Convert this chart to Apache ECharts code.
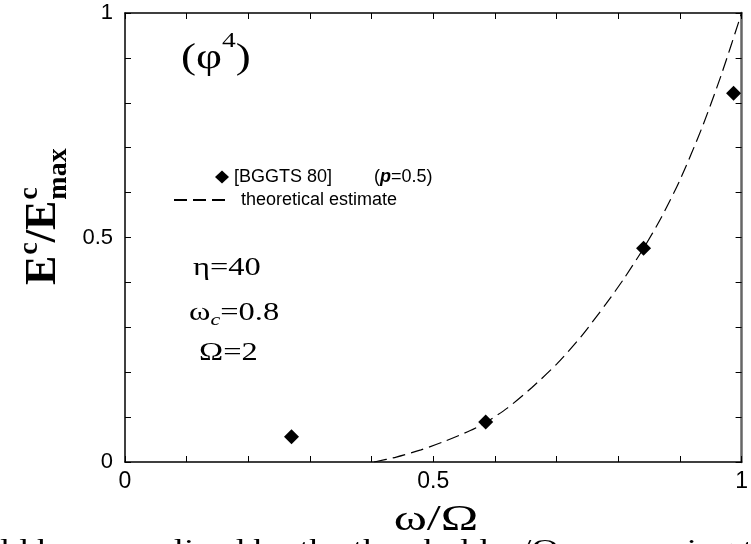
<!DOCTYPE html>
<html><head><meta charset="utf-8">
<script src="https://cdn.jsdelivr.net/npm/echarts@6/dist/echarts.min.js"></script>
<style>html,body{margin:0;padding:0;background:#fff}#c{width:751px;height:544px}</style>
</head><body><div id="c"></div>
<script>
// ---- data ----
const xTickLabels = [0, 0.5, 1];
const yTickLabels = [0, 0.5, 1];
const expName = '[BGGTS 80]';
const expX = [0.270, 0.585, 0.841, 0.987];
const expY = [0.056, 0.089, 0.476, 0.821];
const theoName = 'theoretical estimate';
const theoX = [0.404, 0.44, 0.48, 0.52, 0.56, 0.585, 0.62, 0.66, 0.70, 0.74, 0.78, 0.81, 0.841, 0.87, 0.90, 0.935, 0.967, 1.0];
const theoY = [0, 0.011, 0.027, 0.047, 0.070, 0.088, 0.120, 0.166, 0.218, 0.280, 0.352, 0.410, 0.476, 0.545, 0.628, 0.742, 0.862, 1.0];

const SERIF = '"Liberation Serif","Times New Roman",serif';
const SANS = '"Liberation Sans",Arial,sans-serif';

const ctx = document.createElement('canvas').getContext('2d');
function tw(t, font) { ctx.font = font; return ctx.measureText(t).width; }

// horizontal sequence of text pieces, with horizontal stretch sx
function seq(x0, yMid, pieces, sx) {
  const out = []; let x = x0;
  pieces.forEach(p => {
    out.push({ type: 'text', x: x, y: yMid + (p.dy || 0), scaleX: sx, silent: true,
      style: { text: p.t, font: p.font, fill: '#000', verticalAlign: 'middle', align: 'left' } });
    x += (tw(p.t, p.font) + (p.gap || 0)) * sx;
  });
  return out;
}

const chart = echarts.init(document.getElementById('c'), null, { renderer: 'canvas' });
const near = (v, arr) => arr.some(a => Math.abs(a - v) < 1e-6);
const fmt = arr => v => near(v, arr) ? String(+v.toFixed(2)) : '';

const axisCommon = {
  type: 'value', min: 0, max: 1, interval: 0.1,
  splitLine: { show: false },
  axisTick: { inside: true, length: 6, lineStyle: { color: '#000', width: 1 } }
};

// y title (rotated)
const bigF = 'bold 44px ' + SERIF, smF = 'bold 28px ' + SERIF;
const wE = tw('E', bigF), wc = tw('c', smF), wS = tw('/', bigF);
const yTitle = {
  type: 'group', x: 44, y: 285, rotation: Math.PI / 2, silent: true,
  children: [
    { type: 'text', x: 0, y: 0, style: { text: 'E', font: bigF, fill: '#000', verticalAlign: 'middle' } },
    { type: 'text', x: wE + 1, y: -14, style: { text: 'c', font: smF, fill: '#000', verticalAlign: 'middle' } },
    { type: 'text', x: wE + wc + 1, y: 0, style: { text: '/', font: bigF, fill: '#000', verticalAlign: 'middle' } },
    { type: 'text', x: wE + wc + wS + 1, y: 0, style: { text: 'E', font: bigF, fill: '#000', verticalAlign: 'middle' } },
    { type: 'text', x: 2 * wE + wc + wS + 2, y: -14, style: { text: 'c', font: smF, fill: '#000', verticalAlign: 'middle' } },
    { type: 'text', x: 2 * wE + wc + wS + 2, y: 15, style: { text: 'max', font: smF, fill: '#000', verticalAlign: 'middle' } }
  ]
};

const pF = '25px ' + SERIF;
const xNameF = '36px ' + SERIF;
const xNameSx = 1.4;
const graphics = [yTitle]
  .concat(seq(181, 59, [{ t: '(φ', font: '36px ' + SERIF }, { t: '4', font: '22px ' + SERIF, dy: -18 }, { t: ')', font: '36px ' + SERIF }], 1.25))
  .concat(seq(193, 268, [{ t: 'η=40', font: pF }], 1.3))
  .concat(seq(189, 313, [{ t: 'ω', font: pF }, { t: 'c', font: 'italic 17px ' + SERIF, dy: 8 }, { t: '=0.8', font: pF }], 1.3))
  .concat(seq(199, 353, [{ t: 'Ω=2', font: pF }], 1.3))
  .concat(seq(436 - tw('ω/Ω', xNameF) * xNameSx / 2, 521, [{ t: 'ω/Ω', font: xNameF }], xNameSx))
  .concat([{ type: 'text', x: 0, y: 537, scaleX: 1.3, silent: true,
    style: { text: 'ld be normalized by the threshold ω/Ω; comparing this with the data, t', font: '28px ' + SERIF, fill: '#000', verticalAlign: 'top' } }]);

chart.setOption({
  animation: false,
  backgroundColor: '#fff',
  grid: { left: 125, right: 4, top: 13, bottom: 82 },
  xAxis: [
    Object.assign({}, axisCommon, {
      position: 'bottom',
      axisLine: { onZero: false, lineStyle: { color: '#000', width: 1.5 } },
      axisLabel: { formatter: fmt(xTickLabels), showMinLabel: true, showMaxLabel: true, color: '#000', fontSize: 23, fontFamily: SANS, margin: 8 }
    }),
    Object.assign({}, axisCommon, {
      position: 'top',
      axisLine: { onZero: false, lineStyle: { color: '#000', width: 1.5 } },
      axisLabel: { show: false }
    })
  ],
  yAxis: [
    Object.assign({}, axisCommon, {
      position: 'left',
      axisLine: { show: true, onZero: false, lineStyle: { color: '#000', width: 1.5 } },
      axisLabel: { formatter: fmt(yTickLabels), showMinLabel: true, showMaxLabel: true, color: '#000', fontSize: 22, fontFamily: SANS, margin: 12 }
    }),
    Object.assign({}, axisCommon, {
      position: 'right',
      axisLine: { show: true, onZero: false, lineStyle: { color: '#666', width: 2.5 } },
      axisLabel: { show: false }
    })
  ],
  legend: [
    { data: [expName], left: 210, top: 163, selectedMode: false, itemWidth: 14, itemHeight: 13, icon: 'diamond',
      itemStyle: { color: '#000', opacity: 1 },
      formatter: n => '{a|' + n + '}{b|(}{p|p}{a|=0.5)}',
      textStyle: { color: '#000', fontSize: 18, fontFamily: SANS,
        rich: { a: { fontSize: 18, fontFamily: SANS, color: '#000' },
                b: { fontSize: 18, fontFamily: SANS, color: '#000', padding: [0, 0, 0, 42] },
                p: { fontSize: 18, fontFamily: SANS, color: '#000', fontWeight: 'bold', fontStyle: 'italic' } } } },
    { data: [theoName], left: 168, top: 186, selectedMode: false, itemWidth: 54, itemHeight: 10,
      itemStyle: { opacity: 0 },
      textStyle: { color: '#000', fontSize: 18, fontFamily: SANS, padding: [0, 0, 0, 8] } }
  ],
  graphic: graphics,
  series: [
    { name: theoName, type: 'line', symbol: 'none', smooth: 0.25, z: 2,
      data: theoX.map((x, i) => [x, theoY[i]]),
      lineStyle: { color: '#000', width: 1.2, type: [13, 6] }, itemStyle: { color: '#000' } },
    { name: expName, type: 'scatter', symbol: 'diamond', symbolSize: [15, 15], z: 3,
      data: expX.map((x, i) => [x, expY[i]]), itemStyle: { color: '#000', opacity: 1 } }
  ]
});
</script></body></html>
